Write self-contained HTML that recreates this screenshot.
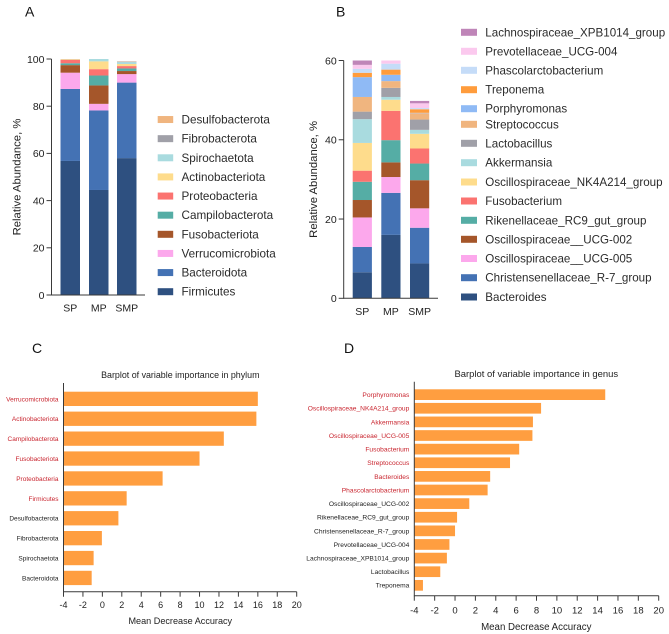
<!DOCTYPE html>
<html lang="en">
<head>
<meta charset="utf-8">
<title>Microbiome composition and variable importance</title>
<style>
html,body{margin:0;padding:0;background:#fff;}
svg{display:block;filter:blur(.3px);}
text{font-family:"Liberation Sans",Arial,sans-serif;fill:#222;}
</style>
</head>
<body>
<svg id="fig" width="669" height="634" viewBox="0 0 669 634" xmlns="http://www.w3.org/2000/svg"></svg>
<script>
// Panel A data
const groups = ['SP', 'MP', 'SMP'];
const phylumNames = ['Firmicutes','Bacteroidota','Verrucomicrobiota','Fusobacteriota','Campilobacterota','Proteobacteria','Actinobacteriota','Spirochaetota','Fibrobacterota','Desulfobacterota'];
const phylumSP = [56.8,30.5,6.9,3.2,0.8,1.4,0.2,0,0.1,0.1];
const phylumMP = [44.5,33.7,2.8,7.8,4.2,2.7,3.3,1,0,0];
const phylumSMP = [58,32,3.6,1.3,1.1,1,0.9,0.8,0.2,0.1];
const phylumTicks = [0,20,40,60,80,100];
// Panel B data
const genusNames = ['Bacteroides','Christensenellaceae_R-7_group','Oscillospiraceae__UCG-005','Oscillospiraceae__UCG-002','Rikenellaceae_RC9_gut_group','Fusobacterium','Oscillospiraceae_NK4A214_group','Akkermansia','Lactobacillus','Streptococcus','Porphyromonas','Treponema','Phascolarctobacterium','Prevotellaceae_UCG-004','Lachnospiraceae_XPB1014_group'];
const genusSP = [6.56,6.39,7.45,4.4,4.6,2.8,7,6,1.9,3.7,5,1.1,1,1,1.1];
const genusMP = [16,10.6,4,3.7,5.6,7.4,2.8,0.7,2.3,1.7,1.6,1.3,1.5,0.8,0];
const genusSMP = [8.8,9,4.9,7.1,4.2,3.8,3.7,1,2.6,1.6,0.1,0.9,0.3,1.2,0.6];
const genusTicks = [0,20,40,60];
// Panel C data
const impPhylumNames = ['Verrucomicrobiota','Actinobacteriota','Campilobacterota','Fusobacteriota','Proteobacteria','Firmicutes','Desulfobacterota','Fibrobacterota','Spirochaetota','Bacteroidota'];
const impPhylumValues = [16.0,15.85,12.5,10,6.2,2.5,1.65,-0.05,-0.9,-1.1];
const impPhylumRedCount = 6;
// Panel D data
const impGenusNames = ['Porphyromonas','Oscillospiraceae_NK4A214_group','Akkermansia','Oscillospiraceae_UCG-005','Fusobacterium','Streptococcus','Bacteroides','Phascolarctobacterium','Oscillospiraceae_UCG-002','Rikenellaceae_RC9_gut_group','Christensenellaceae_R-7_group','Prevotellaceae_UCG-004','Lachnospiraceae_XPB1014_group','Lactobacillus','Treponema'];
const impGenusValues = [14.75,8.45,7.65,7.6,6.3,5.4,3.45,3.2,1.4,0.2,0,-0.55,-0.8,-1.45,-3.15];
const impGenusRedCount = 8;
const impTicks = [-4,-2,0,2,4,6,8,10,12,14,16,18,20];

const phylumColors = ['#2e5080','#4472b4','#fca8ec','#a5562a','#55ada5','#fb7370','#fedc8c','#a9dbdf','#a0a0a8','#f0b57f'];
const genusColors = ['#2e5080','#4472b4','#fca8ec','#a5562a','#55ada5','#fb7370','#fedc8c','#a9dbdf','#a0a0a8','#f0b57f','#8fbaf5','#ff9c3c','#c5dcf8','#fbc9ee','#bf85b8'];

const svg = document.getElementById('fig');
const NS = 'http://www.w3.org/2000/svg';
function slug(s){return String(s).toLowerCase().replace(/[^a-z0-9]+/g,'-').replace(/^-|-$/g,'');}
function shape(tag, props){
  const el = document.createElementNS(NS, tag);
  for (const k in props) el.setAttribute(k, props[k]);
  svg.appendChild(el);
  return el;
}
function label(str, x, y, size, anchor, color){
  const el = shape('text', {x:x, y:y, 'font-size':size, 'text-anchor':anchor || 'start'});
  if (color) el.style.fill = color;
  el.textContent = str;
  return el;
}
function axisLine(x1,y1,x2,y2,w){
  return shape('line',{x1:x1,y1:y1,x2:x2,y2:y2,stroke:'#3a3a3a','stroke-width':w || 1});
}

function stacked(cfg){
  const y = v => cfg.y0 + (cfg.y1 - cfg.y0) * v / cfg.max;
  cfg.series.forEach((vals, g) => {
    let acc = 0;
    vals.forEach((v, i) => {
      if (v <= 0) return;
      const r = shape('rect',{x:cfg.barX[g], y:y(acc + v), width:cfg.barW, height:y(acc) - y(acc + v), fill:cfg.colors[i]});
      
      
      acc += v;
    });
    const t = label(groups[g], cfg.barX[g] + cfg.barW / 2, cfg.labelY, 10.5, 'middle');
    
    
  });
  const ya = axisLine(cfg.axisX, cfg.y1, cfg.axisX, cfg.y0 + .5);
  
  
  const xa = axisLine(cfg.axisX, cfg.y0, cfg.axisEnd, cfg.y0);
  
  
  cfg.ticks.forEach(v => {
    const tk = axisLine(cfg.axisX - 5, y(v), cfg.axisX, y(v));
    
    
    const t = label(v, cfg.axisX - 7, y(v) + 3.8, 10.5, 'end');
    
    
  });
  const mid = (cfg.y0 + cfg.y1) / 2 + cfg.titleShift;
  const title = label('Relative Abundance, %', cfg.titleX, mid, 11.3, 'middle');
  title.setAttribute('transform', 'rotate(-90 ' + cfg.titleX + ' ' + mid + ')');
  
  
}

function legend(names, colors, ys, swatchX, swatchW, textX, id, size){
  names.forEach((n, i) => {
    const r = shape('rect',{x:swatchX, y:ys(i) - 3.5, width:swatchW, height:7, fill:colors[i]});
    
    
    const t = label(n, textX, ys(i) + 4, size, 'start', '#2b2b2b');
    
    
  });
}

function importance(cfg){
  const x = v => cfg.x0 + (v - impTicks[0]) * (cfg.x1 - cfg.x0) / (impTicks[impTicks.length - 1] - impTicks[0]);
  cfg.values.forEach((v, i) => {
    const top = cfg.barTop + i * cfg.step;
    const r = shape('rect',{x:cfg.x0, y:top, width:x(v) - cfg.x0, height:cfg.barH, fill:'#ff9e40'});
    
    
    const t = label(cfg.names[i], cfg.x0 - 5, top + cfg.barH / 2 + 2.4, cfg.catSize, 'end', i < cfg.red ? '#c9252f' : '#222');
    
    
  });
  const ya = axisLine(cfg.x0, cfg.yTop, cfg.x0, cfg.yBase + .5);
  
  
  const xa = axisLine(cfg.x0, cfg.yBase, cfg.x1, cfg.yBase);
  
  
  impTicks.forEach(v => {
    const tk = axisLine(x(v), cfg.yBase, x(v), cfg.yBase + 5);
    
    
    const t = label(v, x(v), cfg.tickY, cfg.tickSize, 'middle');
    
    
  });
  const a = label(cfg.title, cfg.cx, cfg.titleY, cfg.titleSize, 'middle');
  
  
  const b = label('Mean Decrease Accuracy', cfg.cx, cfg.xTitleY, cfg.xTitleSize, 'middle');
  
  
}

stacked({id:'panel-a', names:phylumNames, colors:phylumColors, series:[phylumSP,phylumMP,phylumSMP], ticks:phylumTicks, max:100,
  y0:295, y1:59, axisX:51.5, axisEnd:145, barX:[60.5,89,117], barW:19.5, labelY:311.5, titleX:20.5, titleShift:0});
stacked({id:'panel-b', names:genusNames, colors:genusColors, series:[genusSP,genusMP,genusSMP], ticks:genusTicks, max:60,
  y0:298.3, y1:60.5, axisX:343.7, axisEnd:438, barX:[352.7,381.3,410], barW:19.2, labelY:315, titleX:317, titleShift:0});

const legendAYs = i => 291.7 - i * 19.13;
legend(phylumNames, phylumColors, legendAYs, 157.7, 15.5, 181.5, 'legend-a', 11.7);

const legendBCenters = [297,277.7,258.5,239.3,220.3,201,182,162.7,143.3,124.3,108.7,89.7,70.3,51.3,32.3];
legend(genusNames, genusColors, i => legendBCenters[i], 461, 16, 485.3, 'legend-b', 11.6);

importance({id:'panel-c', names:impPhylumNames, values:impPhylumValues, red:impPhylumRedCount,
  x0:63.5, x1:296.7, yTop:383, yBase:591.7, barTop:391.7, barH:14.3, step:19.9, catSize:6.5, tickSize:9, tickY:608,
  title:'Barplot of variable importance in phylum', cx:180.3, titleY:378, titleSize:8.9, xTitleY:624, xTitleSize:9.1});
importance({id:'panel-d', names:impGenusNames, values:impGenusValues, red:impGenusRedCount,
  x0:414.3, x1:658.7, yTop:381.7, yBase:595.7, barTop:389.3, barH:10.7, step:13.62, catSize:6.65, tickSize:9.5, tickY:613.5,
  title:'Barplot of variable importance in genus', cx:536.3, titleY:377, titleSize:9.45, xTitleY:630, xTitleSize:9.7});

const panelLetters = ['A','B','C','D'];
const panelLetterX = [25,336,32,344];
const panelLetterY = [16.5,16.5,353,353];
panelLetters.forEach((s, i) => {
  const t = label(s, panelLetterX[i], panelLetterY[i], 14, 'start', '#111');
  
  
});
</script>
</body>
</html>
